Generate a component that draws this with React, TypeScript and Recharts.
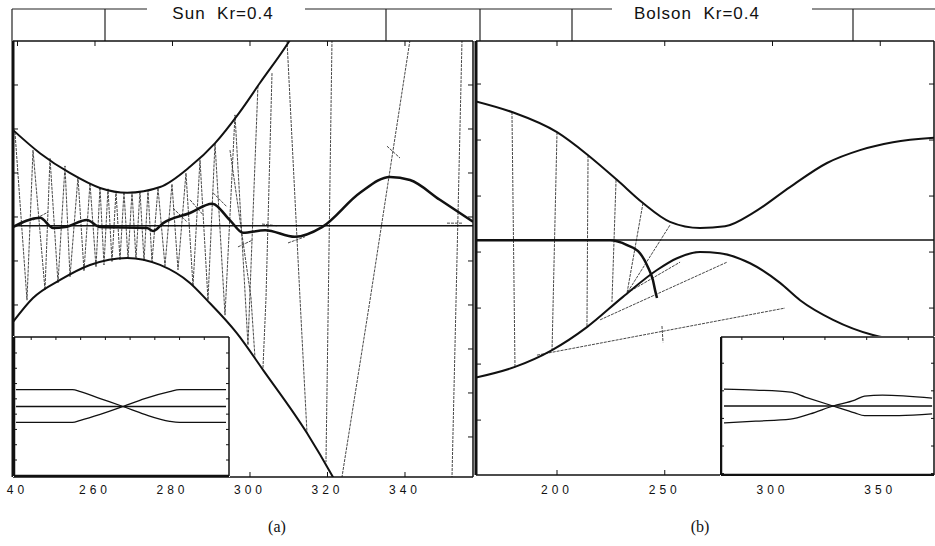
import React from 'react';
import { LineChart, Line, XAxis, YAxis } from 'recharts';

type P = { x: number; y: number };
const pts = (a: number[][]): P[] => a.map(([x, y]) => ({ x, y }));

// ---------- Panel (a): Sun Kr=0.4 ----------
const sunTitle = 'Sun  Kr=0.4';
const sunXDomain: [number, number] = [238.84, 357.55];
const sunYDomain: [number, number] = [-5.91, 4];
const sunXTicks = [240, 260, 280, 300, 320, 340];
const sunXTickLabels = ['40', '260', '280', '300', '320', '340'];
const sunYTicks = [-5, -4, -3, -2, -1, 0, 1, 2, 3];
const sunAxisLevel = pts([[238.84, -0.2], [357.55, -0.2]]);
const sunUpper = pts([[238.8, 1.98], [245.8, 1.45], [253.5, 1.0], [261.3, 0.66], [268.3, 0.55], [276.8, 0.68], [284.5, 1.14], [291.0, 1.68], [297.4, 2.39], [302.6, 3.05], [310.3, 4.02], [312.9, 4.4]]);
const sunLower = pts([[238.8, -2.39], [244.0, -1.84], [251.0, -1.43], [258.7, -1.09], [268.3, -0.93], [276.8, -1.09], [284.5, -1.5], [288.9, -1.89], [296.6, -2.64], [303.4, -3.48], [314.7, -4.91], [321.4, -5.91], [323.2, -6.2]]);
const sunPath = pts([[238.8, -0.23], [245.8, -0.02], [249.2, -0.25], [252.3, -0.23], [257.9, -0.07], [261.3, -0.23], [273.4, -0.25], [275.0, -0.32], [277.6, -0.14], [284.5, 0.09], [290.2, 0.3], [294.8, -0.07], [298.2, -0.36], [303.9, -0.3], [311.6, -0.45], [318.6, -0.23], [328.4, 0.55], [336.1, 0.91], [341.3, 0.84], [349.0, 0.39], [357.6, -0.11]]);
const sunRayZigzag = pts([[239.35, 1.93], [242.45, -1.89], [244.0, 1.52], [247.1, -1.66], [248.39, 1.34], [250.45, -1.5], [252.26, 1.16], [253.55, -1.36], [255.61, 0.91], [257.16, -1.23], [258.71, 0.77], [260.26, -1.14], [261.29, 0.68], [262.32, -1.09], [263.35, 0.64], [264.39, -1.02], [265.42, 0.59], [266.45, -0.98], [267.48, 0.57], [268.52, -0.95], [269.55, 0.57], [270.58, -0.95], [271.61, 0.59], [272.65, -1.0], [273.68, 0.61], [274.71, -1.02], [276.26, 0.66], [278.06, -1.11], [279.87, 0.75], [281.42, -1.2], [283.48, 1.0], [285.29, -1.57], [287.1, 1.3], [289.16, -1.89], [290.97, 1.68], [293.55, -2.23], [296.13, 2.32], [299.48, -2.91], [302.06, 3.0]]);
const sunRaySegments = [
  [[294.84, 1.52], [300.26, -1.84], [301.29, -3.2]],
  [[305.68, 3.27], [304.13, -1.84], [303.35, -3.43]],
  [[309.55, 4.02], [312.9, -1.84], [314.71, -4.91]],
  [[321.16, 4.02], [319.61, -5.57]],
  [[341.29, 4.02], [330.97, -1.89], [323.74, -5.91]],
  [[354.71, 4.02], [352.13, -5.91]],
  [[335.35, 1.61], [338.71, 1.34]],
  [[350.84, -0.14], [354.97, -0.14]],
  [[296.9, -0.68], [300.77, -0.52]],
  [[309.81, -0.59], [314.19, -0.45]],
  [[303.1, -0.16], [306.97, -0.2]],
  [[280.13, 0.2], [283.74, -0.11]],
  [[284.52, 0.39], [287.87, 0.05]],
  [[290.45, 0.55], [294.06, 0.23]],
  [[244.0, -0.07], [247.87, 0.11]],
].map(pts);

const sunInsetXTicks = [8, 19.5, 31, 42.5, 54, 65.5, 77, 88.5];
const sunInsetYTicks = [-0.77, -0.55, -0.33, -0.11, 0.11, 0.33, 0.55, 0.77];
const sunInsetUpper = pts([[0.9, 0.243], [27.2, 0.243], [30.9, 0.214], [40.1, 0.114], [50.7, 0], [60.8, -0.114], [72.4, -0.214], [77.0, -0.229], [98.6, -0.229]]);
const sunInsetLower = pts([[0.9, -0.229], [27.2, -0.229], [30.9, -0.2], [40.1, -0.114], [50.7, 0], [60.8, 0.114], [72.4, 0.214], [77.0, 0.243], [98.6, 0.243]]);
const sunInsetAxis = pts([[0.9, 0], [98.6, 0]]);

// ---------- Panel (b): Bolson Kr=0.4 ----------
const bolsonTitle = 'Bolson  Kr=0.4';
const bolsonXDomain: [number, number] = [162.41, 374.94];
const bolsonYDomain: [number, number] = [-3.98, 3.768];
const bolsonXTicks = [200, 250, 300, 350];
const bolsonXTickLabels = ['200', '250', '300', '350'];
const bolsonYTicks = [-3, -2, -1, 0, 1, 2, 3];
const bolsonAxisLevel = pts([[162.41, 0.214], [374.94, 0.214]]);
const bolsonUpper = pts([[162.4, 2.69], [179.1, 2.5], [200.0, 2.14], [214.4, 1.73], [227.8, 1.29], [239.9, 0.875], [252.4, 0.54], [266.4, 0.43], [278.0, 0.46], [291.0, 0.7], [308.1, 1.16], [325.3, 1.59], [340.6, 1.82], [355.9, 1.96], [375.4, 2.04]]);
const bolsonLower = pts([[162.4, -2.24], [180.5, -2.05], [197.7, -1.75], [213.9, -1.34], [230.6, -0.8], [246.4, -0.32], [255.7, -0.11], [266.4, 0.0], [275.6, -0.02], [289.6, -0.2], [303.5, -0.55], [312.8, -0.86], [328.1, -1.21], [346.6, -1.48], [359.2, -1.57], [375.4, -1.61]]);
const bolsonPath = pts([[162.4, 0.21], [224.6, 0.21], [232.5, 0.125], [238.5, -0.02], [242.2, -0.27], [244.5, -0.5], [245.5, -0.68], [246.4, -0.82]]);
const bolsonRaySegments = [
  [[179.1, 2.5], [180.5, -2.05]],
  [[200.0, 2.14], [197.7, -1.75]],
  [[214.4, 1.73], [213.9, -1.34]],
  [[227.4, 1.29], [225.5, -0.89]],
  [[239.9, 0.875], [232.5, -0.73]],
  [[252.4, 0.48], [232.5, -0.73]],
  [[232.5, -0.73], [257.1, -0.18]],
  [[220.0, -1.21], [278.9, -0.18]],
  [[190.7, -1.84], [305.8, -1.0]],
  [[248.7, -1.32], [249.2, -1.61]],
].map(pts);

const bolsonInsetXTicks = [9.8, 29.3, 48.8, 68.4, 87.9];
const bolsonInsetYTicks = [-0.98, -0.58, -0.18, 0.22, 0.62];
const bolsonInsetA = pts([[1.4, 0.245], [16.3, 0.23], [32.6, 0.2], [39.5, 0.13], [52.6, 0], [62.8, -0.1], [67.4, -0.14], [83.7, -0.14], [99.1, -0.115]]);
const bolsonInsetB = pts([[1.4, -0.245], [16.3, -0.22], [32.6, -0.19], [41.9, -0.115], [52.6, 0], [62.8, 0.086], [67.4, 0.144], [75.8, 0.158], [99.1, 0.115]]);
const bolsonInsetAxis = pts([[1.4, 0], [99.1, 0]]);

const insetXDomain: [number, number] = [0, 100];
const insetYDomain: [number, number] = [-1, 1];

// ---------- styles ----------
const INK = '#111';
const RAY = '#333';
const tickFont = { fontSize: 12, fill: INK, fontFamily: '"Liberation Sans", Arial, sans-serif', letterSpacing: 4 };
const blank = () => '';

function frameAxes(
  xDomain: [number, number],
  yDomain: [number, number],
  xTicks: number[],
  yTicks: number[],
  opts: { labels?: string[]; tickMargin: number; tickSize: number; leftWidth: number; bottomWidth: number }
) {
  const common = { type: 'number' as const, allowDataOverflow: true, interval: 0 as const, tickSize: opts.tickSize, tickLine: { stroke: INK, strokeWidth: 1 } };
  const labels = opts.labels;
  const fmt = labels ? (v: number) => { const i = xTicks.indexOf(v); return i >= 0 ? labels[i] : String(v); } : blank;
  return [
    <XAxis key="xb" xAxisId="b" dataKey="x" orientation="bottom" domain={xDomain} ticks={xTicks} height={1}
      {...common} tickMargin={opts.tickMargin}
      tick={labels ? tickFont : false}
      tickFormatter={fmt}
      axisLine={{ stroke: INK, strokeWidth: opts.bottomWidth }} />,
    <XAxis key="xt" xAxisId="t" dataKey="x" orientation="top" domain={xDomain} ticks={xTicks} height={1}
      {...common} tickFormatter={blank} axisLine={{ stroke: INK, strokeWidth: 1.5 }} />,
    <YAxis key="yl" yAxisId="l" orientation="left" domain={yDomain} ticks={yTicks} width={1}
      {...common} tickFormatter={blank} axisLine={{ stroke: INK, strokeWidth: opts.leftWidth }} />,
    <YAxis key="yr" yAxisId="r" orientation="right" domain={yDomain} ticks={yTicks} width={1}
      {...common} tickFormatter={blank} axisLine={{ stroke: INK, strokeWidth: 1.5 }} />,
  ];
}

function curve(key: string, data: P[], width: number, opts: { ray?: boolean; top?: boolean; linear?: boolean } = {}) {
  return (
    <Line
      key={key}
      data={data}
      dataKey="y"
      xAxisId={opts.top ? 't' : 'b'}
      yAxisId={opts.top ? 'r' : 'l'}
      type={opts.ray || opts.linear ? 'linear' : 'monotone'}
      stroke={opts.ray ? RAY : INK}
      strokeWidth={width}
      strokeDasharray={opts.ray ? '3 1' : undefined}
      dot={false}
      activeDot={false}
      isAnimationActive={false}
    />
  );
}

function SunChart() {
  return (
    <div style={{ position: 'absolute', left: 0, top: 0 }}>
      <LineChart width={480} height={500} margin={{ top: 40, left: 12, right: 6, bottom: 22 }}>
        {frameAxes(sunXDomain, sunYDomain, sunXTicks, sunYTicks, { labels: sunXTickLabels, tickMargin: 13, tickSize: -5, leftWidth: 3, bottomWidth: 1.5 })}
        {curve('ray-zig', sunRayZigzag, 0.9, { ray: true })}
        {sunRaySegments.map((s, i) => curve('ray' + i, s, 0.9, { ray: true }))}
        {curve('axis', sunAxisLevel, 1.5, { top: true, linear: true })}
        {curve('upper', sunUpper, 2)}
        {curve('lower', sunLower, 2)}
        {curve('path', sunPath, 2.5)}
      </LineChart>
    </div>
  );
}

function BolsonChart() {
  return (
    <div style={{ position: 'absolute', left: 465, top: 0 }}>
      <LineChart width={470} height={500} margin={{ top: 40, left: 10, right: 0, bottom: 24 }}>
        {frameAxes(bolsonXDomain, bolsonYDomain, bolsonXTicks, bolsonYTicks, { labels: bolsonXTickLabels, tickMargin: 15, tickSize: -5, leftWidth: 3, bottomWidth: 1.5 })}
        {bolsonRaySegments.map((s, i) => curve('ray' + i, s, 0.9, { ray: true }))}
        {curve('axis', bolsonAxisLevel, 1.5, { top: true, linear: true })}
        {curve('upper', bolsonUpper, 2)}
        {curve('lower', bolsonLower, 2)}
        {curve('path', bolsonPath, 2.5)}
      </LineChart>
    </div>
  );
}

function Inset({ left, top, width, height, xTicks, yTicks, a, b, axis }: {
  left: number; top: number; width: number; height: number; xTicks: number[]; yTicks: number[]; a: P[]; b: P[]; axis: P[];
}) {
  return (
    <div style={{ position: 'absolute', left, top, width, height, background: '#fff' }}>
      <LineChart width={width} height={height} margin={{ top: 0, right: 0, bottom: 0, left: 0 }}>
        {frameAxes(insetXDomain, insetYDomain, xTicks, yTicks, { tickMargin: 2, tickSize: -3, leftWidth: 2.5, bottomWidth: 2.5 })}
        {curve('axis', axis, 1.5, { top: true, linear: true })}
        {curve('a', a, 1.3)}
        {curve('b', b, 1.3)}
      </LineChart>
    </div>
  );
}

const headerH = [[12, 147], [305, 612], [812, 935]];
const headerV = [12, 105, 386, 480, 572, 853];

export default function App() {
  return (
    <div style={{ position: 'absolute', left: 0, top: 0, width: 935, height: 546, background: '#fff', overflow: 'hidden' }}>
      <svg width={935} height={546} style={{ position: 'absolute', left: 0, top: 0 }}>
        {headerH.map(([a, b], i) => (
          <line key={'h' + i} x1={a} x2={b} y1={9} y2={9} stroke="#222" strokeWidth={1.2} />
        ))}
        {headerV.map((x, i) => (
          <line key={'v' + i} x1={x} x2={x} y1={9} y2={41} stroke="#222" strokeWidth={1.2} />
        ))}
        <text x={223} y={19} textAnchor="middle" fontSize={17} letterSpacing={1} xmlSpace="preserve"
          style={{ whiteSpace: 'pre' }} fontFamily='"Liberation Sans", Arial, sans-serif' fill={INK}>{sunTitle}</text>
        <text x={697} y={19} textAnchor="middle" fontSize={17} letterSpacing={1} xmlSpace="preserve"
          style={{ whiteSpace: 'pre' }} fontFamily='"Liberation Sans", Arial, sans-serif' fill={INK}>{bolsonTitle}</text>
        <text x={277} y={532} textAnchor="middle" fontSize={16} fontFamily='"Liberation Serif", "Times New Roman", serif' fill={INK}>(a)</text>
        <text x={700} y={532} textAnchor="middle" fontSize={16} fontFamily='"Liberation Serif", "Times New Roman", serif' fill={INK}>(b)</text>
      </svg>
      <SunChart />
      <BolsonChart />
      <Inset left={13} top={336} width={217} height={141} xTicks={sunInsetXTicks} yTicks={sunInsetYTicks}
        a={sunInsetUpper} b={sunInsetLower} axis={sunInsetAxis} />
      <Inset left={720} top={336} width={215} height={140} xTicks={bolsonInsetXTicks} yTicks={bolsonInsetYTicks}
        a={bolsonInsetA} b={bolsonInsetB} axis={bolsonInsetAxis} />
    </div>
  );
}
